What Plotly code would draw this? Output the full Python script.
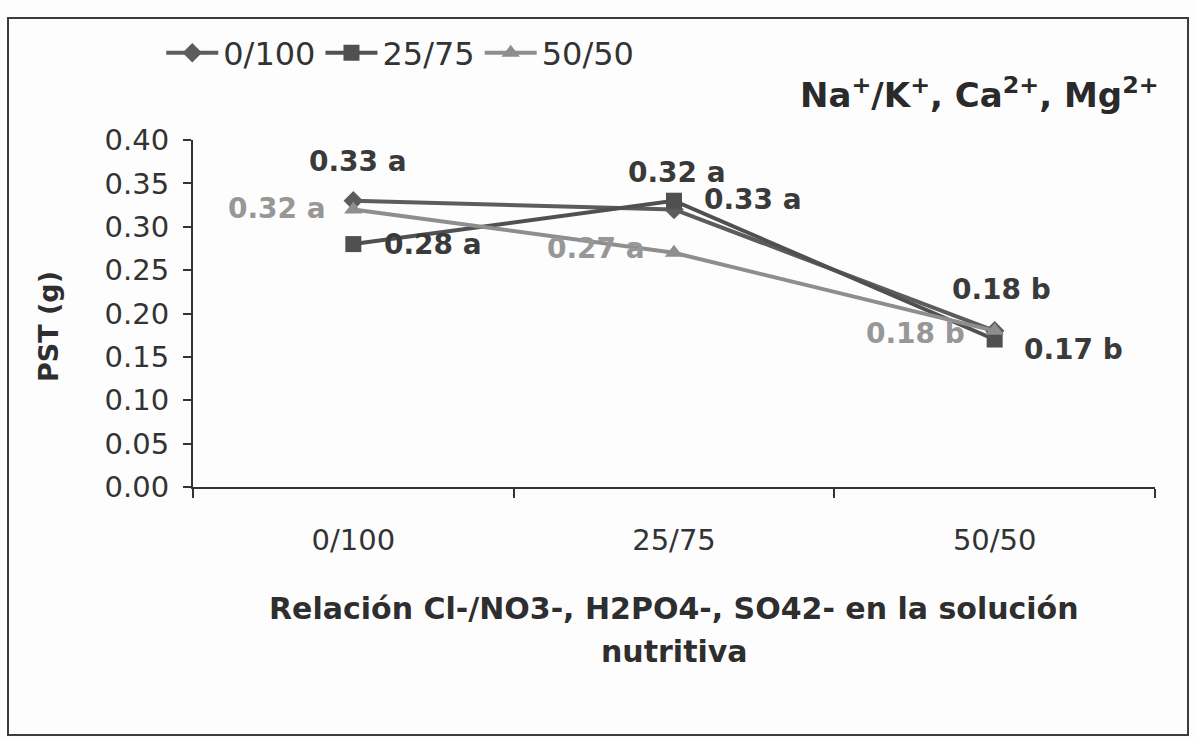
import plotly.graph_objects as go

# Ratio of Cl-/NO3-, H2PO4-, SO42- in the nutrient solution
categories = ["0/100", "25/75", "50/50"]
series_names = ["0/100", "25/75", "50/50"]

pst_0_100 = [0.33, 0.32, 0.18]
pst_25_75 = [0.28, 0.33, 0.17]
pst_50_50 = [0.32, 0.27, 0.18]

labels_0_100 = ["0.33 a", "0.32 a", "0.18 b"]
labels_25_75 = ["0.28 a", "0.33 a", "0.17 b"]
labels_50_50 = ["0.32 a", "0.27 a", "0.18 b"]

y_ticks = [0.00, 0.05, 0.10, 0.15, 0.20, 0.25, 0.30, 0.35, 0.40]

FONT = "DejaVu Sans, Arial, sans-serif"
DARK_TXT = "#3a3a3a"
LIGHT_TXT = "#979797"

series = [
    dict(name=series_names[0], y=pst_0_100, labels=labels_0_100, color="#5c5c5c",
         symbol="diamond", size=15, txt=DARK_TXT,
         offsets=[(5, 39), (3, 37), (7, 41)]),
    dict(name=series_names[1], y=pst_25_75, labels=labels_25_75, color="#505050",
         symbol="square", size=16, txt=DARK_TXT,
         offsets=[(80, 0), (79, 1), (79, -10)]),
    dict(name=series_names[2], y=pst_50_50, labels=labels_50_50, color="#8e8e8e",
         symbol="triangle-up", size=16, txt=LIGHT_TXT,
         offsets=[(-76, 1), (-78, 4), (-79, -3)]),
]

fig = go.Figure()
annotations = []
for s in series:
    fig.add_trace(go.Scatter(
        x=categories, y=s["y"], name=s["name"], mode="lines+markers",
        line=dict(color=s["color"], width=4),
        marker=dict(symbol=s["symbol"], size=s["size"], color=s["color"]),
        cliponaxis=False,
    ))
    for cat, val, lab, (dx, dy) in zip(categories, s["y"], s["labels"], s["offsets"]):
        annotations.append(dict(
            x=cat, y=val, xref="x", yref="y", text=lab, showarrow=False,
            xshift=dx, yshift=dy,
            font=dict(family=FONT, size=28, color=s["txt"], weight="bold"),
        ))

# Axis titles and chart heading
annotations += [
    dict(x=0.5, y=-0.349, xref="paper", yref="paper", showarrow=False,
         text="Relación Cl-/NO3-, H2PO4-, SO42- en la solución",
         font=dict(family=FONT, size=30, color="#2e2e2e", weight="bold"),
         xanchor="center", yanchor="middle"),
    dict(x=0.5, y=-0.4755, xref="paper", yref="paper", showarrow=False,
         text="nutritiva",
         font=dict(family=FONT, size=30, color="#2e2e2e", weight="bold"),
         xanchor="center", yanchor="middle"),
    dict(x=-0.1507, y=0.461, xref="paper", yref="paper", showarrow=False,
         text="PST (g)", textangle=-90,
         font=dict(family=FONT, size=27, color="#2e2e2e", weight="bold"),
         xanchor="center", yanchor="middle"),
    dict(x=1.006, y=1.135, xref="paper", yref="paper", showarrow=False,
         text="Na<sup>+</sup>/K<sup>+</sup>, Ca<sup>2+</sup>, Mg<sup>2+</sup>",
         font=dict(family=FONT, size=34, color="#2a2a2a", weight="bold"),
         xanchor="right", yanchor="middle"),
]

fig.update_layout(
    width=1194, height=741,
    margin=dict(l=193, r=39, t=140, b=254),
    paper_bgcolor="#fdfdfd", plot_bgcolor="rgba(0,0,0,0)",
    showlegend=True,
    legend=dict(orientation="h", x=-0.033, y=1.33, xanchor="left", yanchor="top",
                font=dict(family=FONT, size=32, color="#333333"),
                bgcolor="rgba(0,0,0,0)", itemwidth=52, tracegroupgap=0),
    annotations=annotations,
    shapes=[dict(type="rect", xref="paper", yref="paper",
                 x0=-0.1923, x1=1.0343, y0=-0.7147, y1=1.3516,
                 line=dict(color="#3c3c3c", width=2), layer="below")],
)

fig.update_xaxes(
    type="category", range=[-0.5, 2.5], showgrid=False, zeroline=False,
    showline=True, linecolor="#333333", linewidth=2,
    ticks="outside", tickson="boundaries", ticklen=9, tickcolor="#333333", tickwidth=2,
    tickfont=dict(family=FONT, size=29, color="#333333"),
    ticklabelstandoff=26,
)
fig.update_yaxes(
    range=[0, 0.40], tickvals=y_ticks, tickformat=".2f",
    showgrid=False, zeroline=False,
    showline=True, linecolor="#333333", linewidth=2,
    ticks="outside", ticklen=8, tickcolor="#333333", tickwidth=2,
    tickfont=dict(family=FONT, size=29, color="#333333"),
    ticklabelstandoff=8,
)

fig.write_html("out.html")
